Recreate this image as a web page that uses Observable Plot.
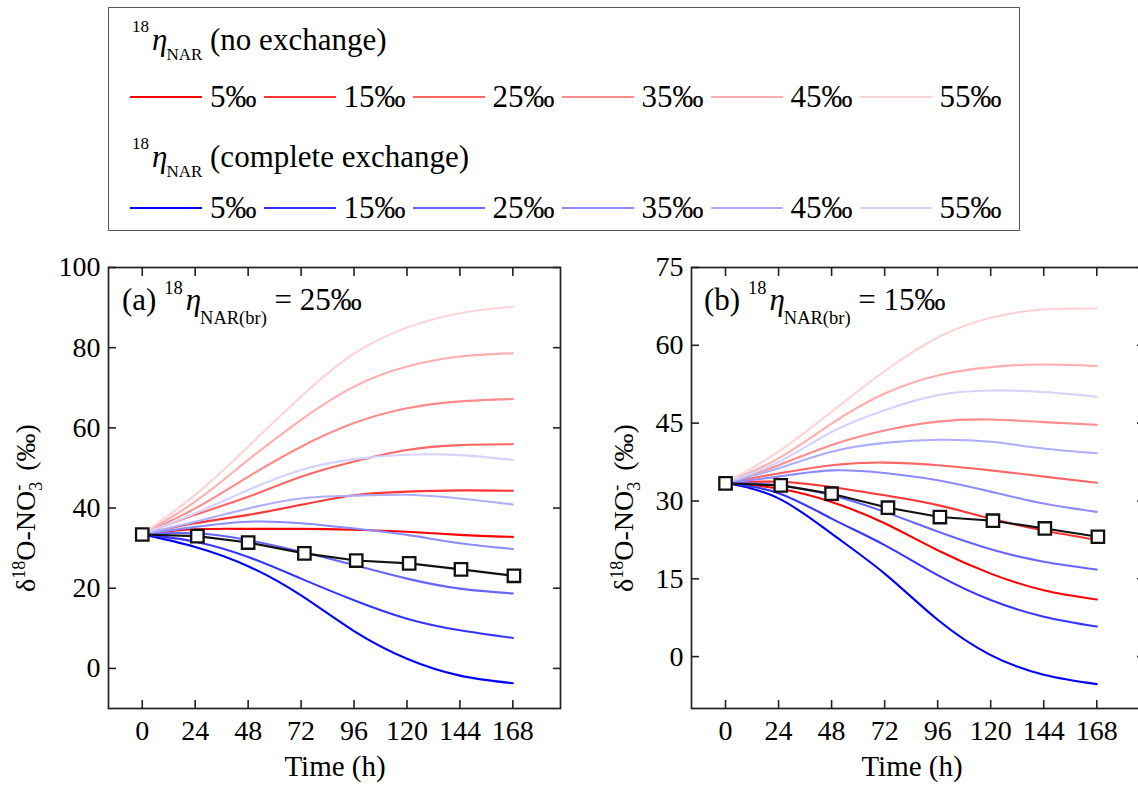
<!DOCTYPE html>
<html>
<head>
<meta charset="utf-8">
<script src="https://cdn.jsdelivr.net/npm/d3@7"></script>
<script src="https://cdn.jsdelivr.net/npm/@observablehq/plot@0.6"></script>
<style>
  html, body { margin: 0; padding: 0; background: #fff; }
  #wrap { position: relative; width: 1138px; height: 786px; overflow: hidden; font-family: "Liberation Serif", "Times New Roman", serif; color: #000; }
  .abs { position: absolute; white-space: nowrap; }
  .abs svg { max-width: none !important; }
  .sup, .sub { position: relative; }
  .legendRow { position: absolute; display: flex; align-items: center; column-gap: 7px; font-size: 31px; line-height: 31px; }
  .item { display: flex; align-items: center; }
  .swatch { width: 72px; height: 2px; margin-right: 8px; }
  .ytitle { position: absolute; white-space: nowrap; font-size: 28px; line-height: 28px; transform: translate(-50%, -50%) rotate(-90deg); }
  .xtitle { position: absolute; white-space: nowrap; font-size: 29px; line-height: 29px; transform: translateX(-50%); }
  .ann { position: absolute; white-space: nowrap; font-size: 31px; line-height: 31px; }
</style>
</head>
<body>
<div id="wrap"></div>
<script>
// ---------------- data ----------------
const hours = [0, 24, 48, 72, 96, 120, 144, 168];
const xTicks = [0, 24, 48, 72, 96, 120, 144, 168];
const etaLabels = ["5‰", "15‰", "25‰", "35‰", "45‰", "55‰"];
const redColors = ["#ff0000", "#ff3535", "#ff6666", "#ff8c8c", "#ffaeae", "#ffd3d3"];
const blueColors = ["#0000ff", "#3535ff", "#6666ff", "#8c8cff", "#aeaeff", "#d3d3ff"];

// measured nitrate δ18O (squares)
const obsHours = [0, 25, 48, 73.5, 97, 121, 144.5, 168.5];
const obsValues = [33.4, 33.0, 31.4, 28.7, 26.9, 26.2, 24.7, 23.1];

// panel (a): 18η NAR(br) = 25‰ ; rows = 5,15,25,35,45,55 ‰
const aTicksY = [0, 20, 40, 60, 80, 100];
const aNoExchange = [
  [33.5, 34.7, 34.8, 34.8, 34.6, 34.1, 33.3, 32.8],
  [33.5, 36.2, 38.3, 40.8, 43.2, 44.1, 44.4, 44.3],
  [33.5, 38.3, 42.8, 47.8, 51.6, 54.5, 55.7, 55.9],
  [33.5, 39.9, 47.8, 55.3, 61.2, 64.9, 66.6, 67.2],
  [33.5, 41.6, 52.0, 62.0, 70.3, 75.3, 77.8, 78.6],
  [33.5, 43.3, 55.3, 67.8, 78.5, 85.0, 88.6, 90.2]
];
const aExchange = [
  [33.5, 30.3, 25.5, 18.2, 9.3, 2.4, -1.8, -3.7],
  [33.5, 31.6, 27.8, 22.4, 17.0, 12.4, 9.5, 7.6],
  [33.5, 33.7, 32.0, 29.1, 25.8, 22.4, 19.9, 18.7],
  [33.5, 35.3, 36.6, 36.2, 34.9, 33.3, 31.2, 29.8],
  [33.5, 36.6, 39.9, 42.4, 43.1, 43.3, 42.4, 40.9],
  [33.5, 38.7, 44.5, 49.5, 52.2, 53.3, 53.2, 52.0]
];

// panel (b): 18η NAR(br) = 15‰
const bTicksY = [0, 15, 30, 45, 60, 75];
const bNoExchange = [
  [33.5, 32.4, 29.8, 25.7, 20.5, 16.0, 12.8, 11.0],
  [33.5, 33.7, 32.7, 31.1, 29.2, 26.6, 24.3, 22.5],
  [33.5, 35.3, 36.9, 37.4, 36.9, 35.9, 34.7, 33.5],
  [33.5, 36.9, 40.8, 43.6, 45.3, 45.7, 45.2, 44.7],
  [33.5, 38.2, 44.9, 50.7, 54.2, 55.8, 56.3, 56.0],
  [33.5, 39.5, 47.2, 55.0, 61.5, 65.3, 66.9, 67.1]
];
const bExchange = [
  [33.5, 30.5, 23.7, 16.0, 7.1, 0.3, -3.5, -5.3],
  [33.5, 31.5, 26.6, 21.5, 15.7, 10.9, 7.7, 5.8],
  [33.5, 33.0, 31.1, 27.9, 24.1, 20.7, 18.3, 16.8],
  [33.5, 34.7, 35.9, 35.4, 34.0, 31.8, 29.5, 27.9],
  [33.5, 36.3, 39.5, 41.2, 41.8, 41.4, 40.1, 39.2],
  [33.5, 37.5, 43.3, 47.5, 50.4, 51.3, 51.0, 50.1]
];

// ---------------- drawing ----------------
const wrap = document.getElementById("wrap");
const FONT = "'Liberation Serif', 'Times New Roman', serif";

function buildRows(noEx, ex) {
  const rows = [];
  noEx.forEach((s, k) => s.forEach((v, i) => rows.push({t: hours[i], v, key: "r" + k, c: redColors[k]})));
  ex.forEach((s, k) => s.forEach((v, i) => rows.push({t: hours[i], v, key: "b" + k, c: blueColors[k]})));
  return rows;
}

function panel({noEx, ex, yDomain, yTicks, width, marginLeft, xDomain}) {
  const rows = buildRows(noEx, ex);
  const obs = obsHours.map((t, i) => ({t, v: obsValues[i]}));
  const frameColor = "#222";
  return Plot.plot({
    width, height: 546,
    marginLeft, marginRight: 20, marginTop: 27, marginBottom: 78,
    x: {domain: xDomain, label: null},
    y: {domain: yDomain, label: null},
    color: {type: "identity"},
    style: {fontFamily: FONT, fontSize: "28px", color: "#000", background: "transparent", overflow: "visible", maxWidth: "none"},
    marks: [
      Plot.line(rows, {x: "t", y: "v", z: "key", stroke: "c", strokeWidth: 2.1, curve: "natural"}),
      Plot.line(obs, {x: "t", y: "v", stroke: "#111", strokeWidth: 2.1}),
      Plot.dot(obs, {x: "t", y: "v", symbol: "square", r: 7, fill: "white", stroke: "#111", strokeWidth: 2.3}),
      Plot.frame({stroke: frameColor, strokeWidth: 1.7}),
      // inward ticks on all four sides
      Plot.axisX(xTicks, {anchor: "bottom", tickSize: -8, fill: "none", stroke: frameColor, strokeWidth: 1.6, label: null}),
      Plot.axisX(xTicks, {anchor: "top", tickSize: -8, fill: "none", stroke: frameColor, strokeWidth: 1.6, label: null}),
      Plot.axisY(yTicks, {anchor: "left", tickSize: -8, fill: "none", stroke: frameColor, strokeWidth: 1.6, label: null}),
      Plot.axisY(yTicks, {anchor: "right", tickSize: -8, fill: "none", stroke: frameColor, strokeWidth: 1.6, label: null}),
      // tick labels
      Plot.axisX(xTicks, {anchor: "bottom", tickSize: 0, tickPadding: 12, label: null, fill: "#000"}),
      Plot.axisY(yTicks, {anchor: "left", tickSize: 0, tickPadding: 8, label: null, fill: "#000"})
    ]
  });
}

function place(el, left, top, w) {
  const d = document.createElement("div");
  d.className = "abs";
  d.style.left = left + "px";
  d.style.top = top + "px";
  d.style.width = w + "px";
  d.appendChild(el);
  wrap.appendChild(d);
  return d;
}

const plotA = panel({noEx: aNoExchange, ex: aExchange, yDomain: [-10, 100], yTicks: aTicksY, width: 580, marginLeft: 108, xDomain: [-15.3, 189.6]});
place(plotA, 0, 240, 580);
const plotB = panel({noEx: bNoExchange, ex: bExchange, yDomain: [-10, 75], yTicks: bTicksY, width: 564, marginLeft: 91, xDomain: [-15.4, 189.6]});
place(plotB, 600, 240, 564);

// ---------------- text overlays ----------------
function html(cls, left, top, inner) {
  const d = document.createElement("div");
  d.className = cls;
  d.style.left = left + "px";
  d.style.top = top + "px";
  d.innerHTML = inner;
  wrap.appendChild(d);
  return d;
}

const etaSym = (supTop, subTop, subText, fs) =>
  `<span class="sup" style="font-size:${fs}px;top:${supTop}px">18</span>` +
  `<i style="margin-left:3px">η</i>` +
  `<span class="sub" style="font-size:${fs}px;top:${subTop}px;margin-left:-1px">${subText}</span>`;

// panel annotations
html("ann", 122, 284, `(a) ${etaSym(-16, 14, "NAR(br)", 18.5)} = 25‰`);
html("ann", 704, 284, `(b) ${etaSym(-16, 14, "NAR(br)", 18.5)} = 15‰`);

// y titles
const yTitle = `δ<span class="sup" style="font-size:18px;top:-10px">18</span>O-NO` +
  `<span class="sub" style="font-size:18px;top:7px">3</span>` +
  `<span class="sup" style="font-size:18px;top:-11px;margin-left:-9px">-</span>&nbsp;&nbsp;(‰)`;
html("ytitle", 27, 508, yTitle);
html("ytitle", 625, 508, yTitle);

// x titles
html("xtitle", 335, 752, "Time (h)");
html("xtitle", 912, 752, "Time (h)");

// ---------------- legend ----------------
const box = document.createElement("div");
box.style.cssText = "position:absolute;left:108px;top:7px;width:912px;height:224px;border:1.5px solid #555;box-sizing:border-box;background:#fff";
wrap.appendChild(box);

html("ann", 132, 24, `${etaSym(-18, 10, "NAR", 17)} (no exchange)`);
html("ann", 132, 141, `${etaSym(-18, 10, "NAR", 17)} (complete exchange)`);

function legendRow(colors, top) {
  const row = document.createElement("div");
  row.className = "legendRow";
  row.style.left = "130px";
  row.style.top = top + "px";
  etaLabels.forEach((lab, i) => {
    const it = document.createElement("div");
    it.className = "item";
    it.innerHTML = `<span class="swatch" style="background:${colors[i]}"></span><span>${lab}</span>`;
    row.appendChild(it);
  });
  wrap.appendChild(row);
}
legendRow(redColors, 81);
legendRow(blueColors, 192);
</script>
</body>
</html>
